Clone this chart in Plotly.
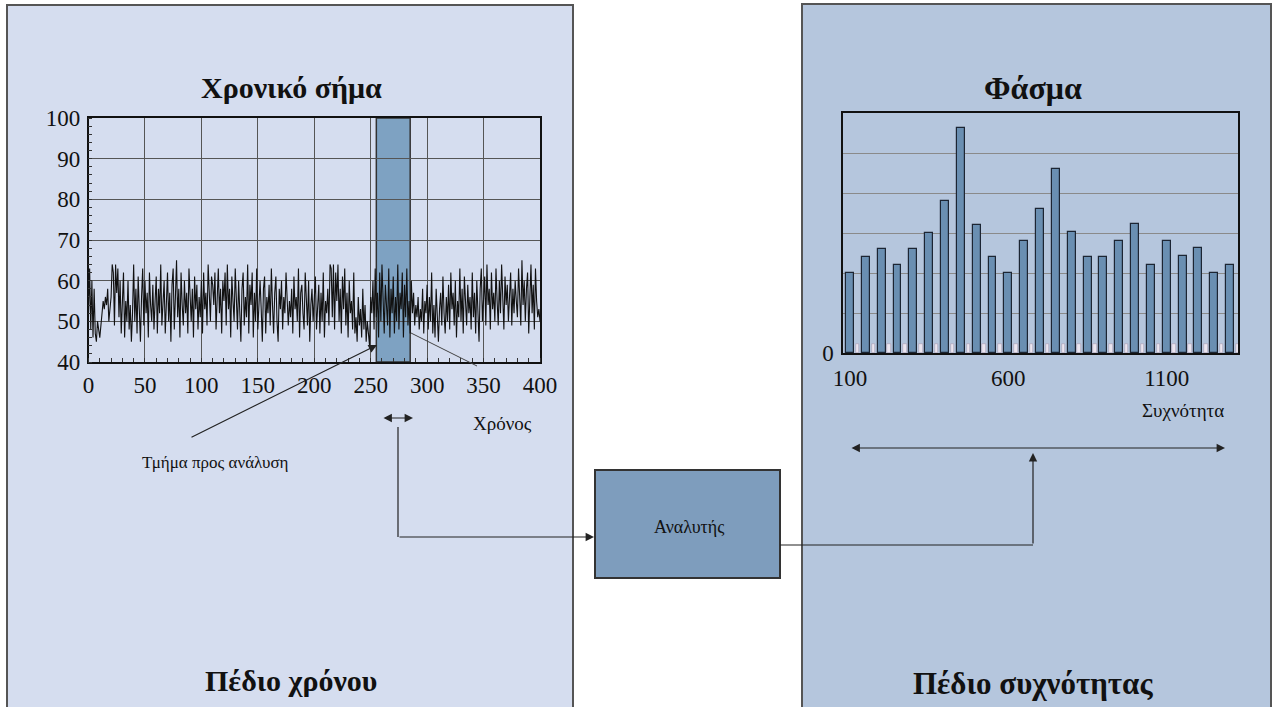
import plotly.graph_objects as go

# --- data ---
signal = [
    52, 63, 48, 60, 46, 58, 47, 45, 50, 47, 46, 49, 52, 55, 53, 56, 54, 58, 50, 53,
    56, 64, 62, 49, 64, 57, 63, 51, 60, 47, 58, 62, 46, 55, 50, 60, 48, 54, 45, 52,
    64, 50, 58, 47, 61, 53, 45, 56, 63, 49, 60, 52, 57, 46, 62, 54, 50, 59, 48, 55,
    61, 47, 58, 52, 64, 49, 56, 60, 47, 53, 62, 50, 57, 45, 59, 63, 48, 56, 65, 51,
    58, 46, 62, 54, 49, 60, 52, 57, 47, 63, 55, 50, 58, 46, 61, 53, 59, 48, 56, 51,
    60, 47, 62, 53, 57, 49, 64, 55, 50, 61, 59, 54, 62, 48, 57, 63, 52, 58, 47, 60,
    55, 62, 49, 64, 53, 58, 46, 61, 55, 50, 63, 57, 48, 60, 52, 45, 58, 62, 49, 56,
    51, 64, 47, 59, 54, 62, 46, 57, 50, 63, 48, 55, 60, 53, 45, 58, 61, 47, 56, 52,
    59, 49, 63, 54, 47, 57, 61, 50, 45, 58, 53, 60, 48, 56, 52, 62, 57, 49, 55, 51,
    58, 47, 61, 53, 56, 50, 63, 46, 57, 59, 52, 48, 62, 55, 49, 60, 45, 54, 58, 50,
    56, 61, 48, 53, 59, 47, 57, 50, 62, 46, 55, 52, 58, 49, 64, 63, 51, 64, 48, 62,
    55, 64, 50, 58, 47, 61, 53, 63, 49, 57, 46, 60, 52, 55, 48, 62, 47, 51, 45, 56,
    49, 53, 46, 58, 48, 54, 45, 50, 47, 44, 56, 52, 60, 48, 63, 51, 57, 46, 62, 50,
    64, 53, 47, 59, 55, 49, 63, 46, 58, 52, 61, 47, 56, 50, 64, 48, 57, 53, 62, 46,
    59, 51, 63, 49, 55, 47, 60, 52, 57, 49, 54, 51, 56, 48, 53, 50, 58, 47, 55, 52,
    59, 48, 56, 50, 62, 47, 54, 46, 58, 51, 45, 53, 57, 49, 61, 52, 47, 56, 50, 59,
    48, 62, 53, 57, 49, 60, 46, 55, 51, 63, 50, 58, 47, 61, 54, 49, 59, 52, 56, 48,
    62, 51, 57, 47, 60, 53, 45, 58, 63, 50, 56, 61, 49, 64, 54, 58, 48, 62, 53, 57,
    50, 63, 55, 49, 60, 52, 64, 57, 48, 61, 54, 59, 50, 56, 62, 49, 58, 52, 60, 55,
    51, 63, 57, 49, 65, 54, 60, 50, 58, 62, 47, 56, 64, 52, 59, 48, 63, 55, 51, 53,
    50,
]
time = list(range(len(signal)))
window = [255, 285]

freqs = [100, 150, 200, 250, 300, 350, 400, 450, 500, 550, 600, 650, 700,
         750, 800, 850, 900, 950, 1000, 1050, 1100, 1150, 1200, 1250, 1300]
spectrum = [2.0, 2.39, 2.6, 2.21, 2.6, 3.0, 3.79, 5.63, 3.21, 2.39, 2.0, 2.81, 3.6,
            4.61, 3.02, 2.39, 2.39, 2.81, 3.23, 2.21, 2.81, 2.42, 2.62, 2.0, 2.21]
floor = [0.22] * len(freqs)  # small light bars sitting between the blue ones
freq_ticks = [100, 600, 1100]

W, H = 1277, 707
SERIF = "Liberation Serif"


def px(x):
    return x / W


def py(y):
    return 1 - y / H


fig = go.Figure()

fig.add_trace(go.Scatter(x=time, y=signal, mode="lines",
                         line=dict(color="#111111", width=1.1),
                         xaxis="x", yaxis="y", showlegend=False))

fig.add_trace(go.Bar(x=freqs, y=spectrum, width=25,
                     marker=dict(color="#6a8fb2", line=dict(color="#1c2533", width=1.2)),
                     xaxis="x2", yaxis="y2", showlegend=False))
fig.add_trace(go.Bar(x=freqs, y=floor, width=11, offset=18,
                     marker=dict(color="#ebe6f0", line=dict(color="#a89cb4", width=0.6)),
                     xaxis="x2", yaxis="y2", showlegend=False))

shapes = [
    # panels
    dict(type="rect", xref="paper", yref="paper", x0=px(7), x1=px(573), y0=-0.02, y1=py(5),
         fillcolor="#d5ddef", line=dict(color="#555555", width=2), layer="below"),
    dict(type="rect", xref="paper", yref="paper", x0=px(802), x1=px(1271), y0=-0.02, y1=py(4),
         fillcolor="#b5c6dd", line=dict(color="#555555", width=2), layer="below"),
    # analysed window
    dict(type="rect", xref="x", yref="y", x0=window[0], x1=window[1], y0=40, y1=100,
         fillcolor="#7ea2c2", line=dict(color="#333333", width=1.5), layer="below"),
    # analyser box
    dict(type="rect", xref="paper", yref="paper", x0=px(595), x1=px(780), y0=py(578), y1=py(470),
         fillcolor="#7e9dbd", line=dict(color="#333333", width=2)),
    # thin pointer line from window
    dict(type="line", xref="paper", yref="paper", x0=px(411), y0=py(333), x1=px(477), y1=py(366),
         line=dict(color="#444444", width=1)),
    # connectors
    dict(type="line", xref="paper", yref="paper", x0=px(398), y0=py(427), x1=px(398), y1=py(537),
         line=dict(color="#222222", width=1.2)),
    dict(type="line", xref="paper", yref="paper", x0=px(780), y0=py(545), x1=px(1033), y1=py(545),
         line=dict(color="#222222", width=1.2)),
]

arrow = dict(showarrow=True, arrowhead=2, arrowsize=1.4, arrowwidth=1.2,
             arrowcolor="#222222", xref="paper", yref="paper", text="")
annotations = [
    dict(arrow, x=px(377), y=py(345), ax=190 - 377, ay=438 - 345),
    dict(arrow, x=px(413), y=py(418), ax=-31, ay=0, arrowside="end+start"),
    dict(arrow, x=px(594), y=py(537), ax=-196, ay=0),
    dict(arrow, x=px(1033), y=py(453), ax=0, ay=92),
    dict(arrow, x=px(1225), y=py(448), ax=-375, ay=0, arrowside="end+start"),
]


def label(text, x, y, size, bold=False):
    return dict(text=f"<b>{text}</b>" if bold else text, x=px(x), y=py(y),
                xref="paper", yref="paper", showarrow=False,
                xanchor="center", yanchor="middle",
                font=dict(family=SERIF, size=size, color="#111111"))


annotations += [
    label("Χρονικό σήμα", 291, 88, 30, True),
    label("Φάσμα", 1033, 88, 32, True),
    label("Πέδιο χρόνου", 291, 680, 30, True),
    label("Πέδιο συχνότητας", 1033, 683, 31, True),
    label("Τμήμα προς ανάλυση", 215, 462, 17),
    label("Χρόνος", 502, 423, 19),
    label("Συχνότητα", 1183, 410, 19),
    label("Αναλυτής", 689, 527, 18),
]

fig.update_layout(
    width=W, height=H,
    margin=dict(l=0, r=0, t=0, b=0, autoexpand=False),
    paper_bgcolor="white", plot_bgcolor="white",
    font=dict(family=SERIF, size=23, color="#111111"),
    shapes=shapes, annotations=annotations,
    bargap=0, barmode="overlay",
    xaxis=dict(domain=[px(88.5), px(540)], range=[0, 400], tickvals=list(range(0, 401, 50)),
               showgrid=True, gridcolor="#555555", gridwidth=1,
               showline=True, mirror=True, linecolor="#111111", linewidth=1.5,
               ticks="", zeroline=False, ticklabelstandoff=2, automargin=False,
               minor=dict(dtick=10, ticks="inside", ticklen=4, tickcolor="#333333", showgrid=False),
               anchor="y"),
    yaxis=dict(domain=[py(362), py(118)], range=[40, 100], tickvals=list(range(40, 101, 10)),
               showgrid=True, gridcolor="#555555", gridwidth=1,
               showline=True, mirror=True, linecolor="#111111", linewidth=1.5,
               ticks="", zeroline=False, ticklabelstandoff=2, automargin=False,
               minor=dict(dtick=2, ticks="inside", ticklen=4, tickcolor="#333333", showgrid=False),
               anchor="x"),
    xaxis2=dict(domain=[px(843), px(1238)], range=[78, 1325], tickvals=freq_ticks,
                showgrid=False, showline=True, mirror=True, linecolor="#111111", linewidth=1.5,
                ticks="", zeroline=False, ticklabelstandoff=4, automargin=False, anchor="y2"),
    yaxis2=dict(domain=[py(353), py(113)], range=[0, 6], tickvals=[0, 1, 2, 3, 4, 5],
                ticktext=["0", "", "", "", "", ""],
                showgrid=True, gridcolor="#8a8a8a", gridwidth=1,
                showline=True, mirror=True, linecolor="#111111", linewidth=1.5,
                ticks="", zeroline=False, ticklabelstandoff=3, automargin=False, anchor="x2"),
)

fig.write_html("out.html", config={"displayModeBar": False},
               post_script="document.body.style.margin='0';document.body.style.overflow='hidden';")
